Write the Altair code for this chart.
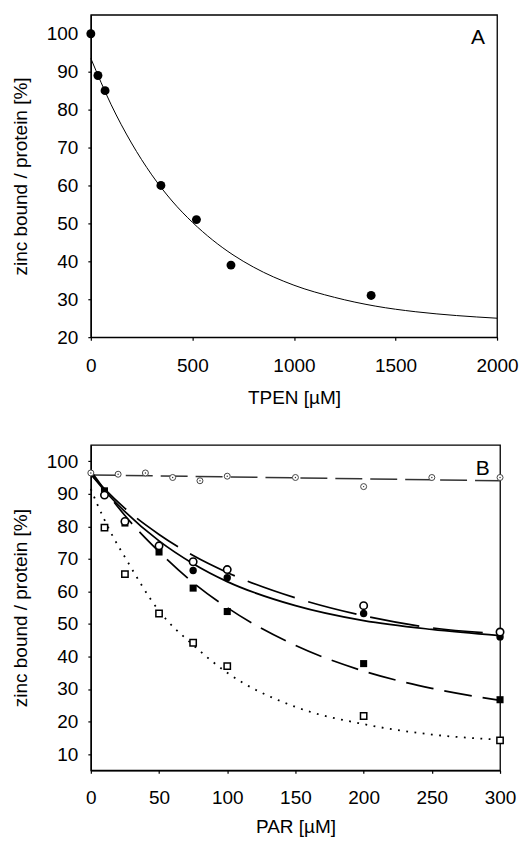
import altair as alt
import pandas as pd

FONT = "Liberation Sans"

# ---------------- Panel A data ----------------
A_tpen = [0, 35, 70, 345, 520, 690, 1380]
A_zinc = [100, 89, 85, 60, 51, 39, 31]
A_fit_x = [0, 100, 200, 300, 400, 500, 600, 700, 800, 1000, 1200, 1400, 1600, 1800, 2000]
A_fit_y = [93.5, 81.3, 71.2, 62.8, 55.9, 50.3, 45.6, 41.7, 38.5, 33.7, 30.5, 28.2, 26.7, 25.7, 25.0]
A_ticks_x = [0, 500, 1000, 1500, 2000]
A_ticks_y = [20, 30, 40, 50, 60, 70, 80, 90, 100]

# ---------------- Panel B data ----------------
B_ctrl_x = [0, 20, 40, 60, 80, 100, 150, 200, 250, 300]
B_ctrl_y = [96.4, 96.0, 96.4, 95.0, 94.0, 95.4, 95.0, 92.2, 95.0, 95.0]
B_ocirc_x = [10, 25, 50, 75, 100, 200, 300]
B_ocirc_y = [89.6, 81.5, 74.0, 69.1, 66.7, 55.6, 47.5]
B_fcirc_x = [75, 100, 200, 300]
B_fcirc_y = [66.4, 64.2, 53.2, 46.0]
B_fsq_x = [10, 25, 50, 75, 100, 200, 300]
B_fsq_y = [90.9, 81.0, 72.1, 61.0, 53.8, 37.8, 26.7]
B_osq_x = [10, 25, 50, 75, 100, 200, 300]
B_osq_y = [79.6, 65.3, 53.2, 44.2, 37.0, 21.7, 14.2]

# fitted curves
B_fit_ctrl_x = [0, 100, 200, 300]
B_fit_ctrl_y = [95.8, 95.2, 94.6, 94.0]
B_fit_grid = [0, 10, 25, 50, 75, 100, 150, 200, 250, 300]
B_fit_fcirc_y = [96.0, 91.0, 84.5, 75.5, 68.5, 63.0, 55.6, 51.0, 48.3, 46.4]
B_fit_ocirc_y = [96.0, 91.5, 85.5, 77.5, 71.0, 65.8, 58.0, 52.5, 48.8, 47.0]
B_fit_fsq_y = [97.0, 91.3, 83.3, 72.2, 62.7, 55.0, 43.4, 35.5, 30.2, 26.5]
B_fit_osq_x = [0, 5, 10, 15, 25, 50, 75, 100, 150, 200, 250, 300]
B_fit_osq_y = [91.5, 86.5, 82.0, 77.8, 70.5, 54.0, 43.5, 35.0, 24.5, 19.2, 16.0, 14.4]
B_ticks_x = [0, 50, 100, 150, 200, 250, 300]
B_ticks_y = [10, 20, 30, 40, 50, 60, 70, 80, 90, 100]

YTITLE = "zinc bound / protein [%]"

# ---------------- Panel A ----------------
dfA = pd.DataFrame({"x": A_tpen, "y": A_zinc})
dfAfit = pd.DataFrame({"x": A_fit_x, "y": A_fit_y})

xA = alt.X("x:Q", scale=alt.Scale(domain=[0, 2000], nice=False, zero=False),
           axis=alt.Axis(values=A_ticks_x, format="d", title="TPEN [µM]",
                         labelPadding=16, titlePadding=13))
yA = alt.Y("y:Q", scale=alt.Scale(domain=[20, 105], nice=False, zero=False),
           axis=alt.Axis(values=A_ticks_y, format="d", title=YTITLE))

fitA = alt.Chart(dfAfit).mark_line(color="black", strokeWidth=1, interpolate="monotone").encode(x=xA, y=yA)
ptsA = alt.Chart(dfA).mark_circle(size=80, color="black", opacity=1).encode(x=xA, y=yA)
labA = alt.Chart(pd.DataFrame({"x": [1940], "y": [97.3], "t": ["A"]})).mark_text(
    align="right", baseline="alphabetic", fontSize=21, font=FONT, color="black"
).encode(x=xA, y=yA, text="t:N")

panelA = alt.layer(fitA, ptsA, labA).properties(width=407, height=323)

# ---------------- Panel B ----------------
xB = alt.X("x:Q", scale=alt.Scale(domain=[0, 300], nice=False, zero=False),
           axis=alt.Axis(values=B_ticks_x, format="d", title="PAR [µM]",
                         labelPadding=15, titlePadding=10))
yB = alt.Y("y:Q", scale=alt.Scale(domain=[5, 105], nice=False, zero=False),
           axis=alt.Axis(values=B_ticks_y, format="d", title=YTITLE))


def df(xs, ys):
    return pd.DataFrame({"x": xs, "y": ys})


line_ctrl = alt.Chart(df(B_fit_ctrl_x, B_fit_ctrl_y)).mark_line(
    color="#333", strokeWidth=1.5, strokeDash=[27, 8]).encode(x=xB, y=yB)
line_fcirc = alt.Chart(df(B_fit_grid, B_fit_fcirc_y)).mark_line(
    color="black", strokeWidth=1.7, interpolate="monotone").encode(x=xB, y=yB)
line_ocirc = alt.Chart(df(B_fit_grid, B_fit_ocirc_y)).mark_line(
    color="black", strokeWidth=1.7, strokeDash=[50, 14], interpolate="monotone").encode(x=xB, y=yB)
line_fsq = alt.Chart(df(B_fit_grid, B_fit_fsq_y)).mark_line(
    color="black", strokeWidth=1.7, strokeDash=[28, 11], interpolate="monotone").encode(x=xB, y=yB)
line_osq = alt.Chart(df(B_fit_osq_x, B_fit_osq_y)).mark_line(
    color="black", strokeWidth=1.8, strokeDash=[1.8, 6.5], interpolate="monotone").encode(x=xB, y=yB)

pts_osq = alt.Chart(df(B_osq_x, B_osq_y)).mark_point(
    shape="square", size=40, fill="white", stroke="black", strokeWidth=1.5, opacity=1, filled=False
).encode(x=xB, y=yB)
pts_fsq = alt.Chart(df(B_fsq_x, B_fsq_y)).mark_square(size=50, color="black", opacity=1).encode(x=xB, y=yB)
pts_fcirc = alt.Chart(df(B_fcirc_x, B_fcirc_y)).mark_circle(size=55, color="black", opacity=1).encode(x=xB, y=yB)
pts_ocirc = alt.Chart(df(B_ocirc_x, B_ocirc_y)).mark_point(
    shape="circle", size=55, fill="white", stroke="black", strokeWidth=1.6, opacity=1, filled=False
).encode(x=xB, y=yB)
pts_ctrl = alt.Chart(df(B_ctrl_x, B_ctrl_y)).mark_point(
    shape="circle", size=36, fill="white", stroke="#444", strokeWidth=1, opacity=1, filled=False
).encode(x=xB, y=yB)
pts_ctrl_dot = alt.Chart(df(B_ctrl_x, B_ctrl_y)).mark_circle(size=2, color="#333", opacity=1).encode(x=xB, y=yB)
labB = alt.Chart(pd.DataFrame({"x": [292.5], "y": [95.8], "t": ["B"]})).mark_text(
    align="right", baseline="alphabetic", fontSize=21, font=FONT, color="black"
).encode(x=xB, y=yB, text="t:N")

panelB = alt.layer(
    line_ctrl, line_osq, line_fsq, line_ocirc, line_fcirc,
    pts_osq, pts_fsq, pts_fcirc, pts_ocirc, pts_ctrl, pts_ctrl_dot, labB
).properties(width=410, height=326)

chart = alt.vconcat(panelA, panelB, spacing=36).properties(
    padding={"left": 2, "top": 5, "right": 0, "bottom": 0}
).configure_view(
    stroke="black", strokeWidth=1.3
).configure_axis(
    grid=False, labelFlush=False, labelOverlap=False,
    labelFont=FONT, labelFontSize=19, labelColor="black",
    titleFont=FONT, titleFontSize=19, titleColor="black", titleFontWeight="normal",
    tickSize=3, tickColor="black", tickWidth=1.2,
    domainColor="black", domainWidth=1.3,
).configure_axisY(
    labelPadding=10, titlePadding=16
)

chart.save("out.html", embed_options={"renderer": "svg", "actions": False})
